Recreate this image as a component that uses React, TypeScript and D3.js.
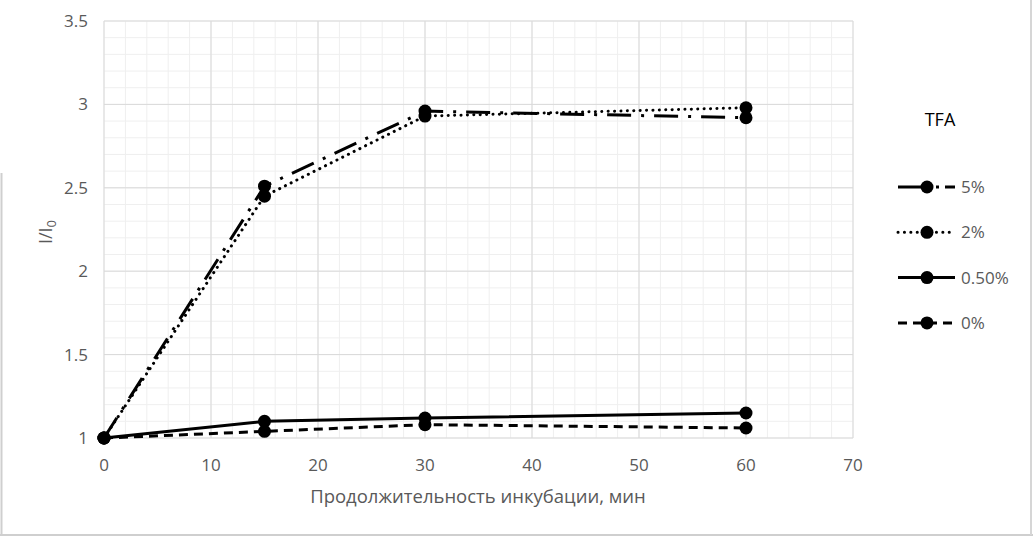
import React from "react";
import * as d3 from "d3";

// incubation time, min
const times = [0, 15, 30, 60];

// I/I0 per TFA concentration
const tfa5 = [1, 2.51, 2.96, 2.92];
const tfa2 = [1, 2.45, 2.93, 2.98];
const tfa05 = [1, 1.1, 1.12, 1.15];
const tfa0 = [1, 1.04, 1.08, 1.06];

const seriesNames = ["5%", "2%", "0.50%", "0%"];
const seriesValues = [tfa5, tfa2, tfa05, tfa0];
const dashes = ["24,10,3,10", "0.1,6.3", "none", "9,6"];
const legendDashes = ["24,14,3,6", "0.1,6.3", "none", "9,6"];

const xTicks = [0, 10, 20, 30, 40, 50, 60, 70];
const yTicks = [1, 1.5, 2, 2.5, 3, 3.5];

const W = 1033;
const H = 537;
const font = "'Open Sans', 'DejaVu Sans', sans-serif";
const grey = "#595959";

export default function App() {
  const x = d3.scaleLinear().domain([0, 70]).range([104, 853]);
  const y = d3.scaleLinear().domain([1, 3.5]).range([438, 21]);

  const line = d3
    .line<number>()
    .x((_, i) => x(times[i]))
    .y((d) => y(d));

  const minorX = d3.range(0, 70.01, 2);
  const minorY = d3.range(1, 3.501, 0.1);

  return (
    <svg
      width={W}
      height={H}
      style={{ position: "absolute", left: 0, top: 0, background: "#fff" }}
      fontFamily={font}
    >
      {/* chart frame, partly visible */}
      <line x1={1.5} x2={1.5} y1={173} y2={535} stroke="#cfcfcf" strokeWidth={2} />
      <line x1={0} x2={W} y1={535} y2={535} stroke="#cfcfcf" strokeWidth={2} />
      <line x1={1031} x2={1031} y1={0} y2={535} stroke="#d6d6d6" strokeWidth={2} />

      {/* minor grid */}
      {minorX.map((v) => (
        <line key={"mx" + v} x1={x(v)} x2={x(v)} y1={y(3.5)} y2={y(1)} stroke="#efefef" />
      ))}
      {minorY.map((v) => (
        <line key={"my" + v} x1={x(0)} x2={x(70)} y1={y(v)} y2={y(v)} stroke="#efefef" />
      ))}
      {/* major grid */}
      {xTicks.map((v) => (
        <line key={"gx" + v} x1={x(v)} x2={x(v)} y1={y(3.5)} y2={y(1)} stroke="#d9d9d9" />
      ))}
      {yTicks.map((v) => (
        <line key={"gy" + v} x1={x(0)} x2={x(70)} y1={y(v)} y2={y(v)} stroke="#d9d9d9" />
      ))}

      {/* tick labels */}
      {yTicks.map((v) => (
        <text key={"ty" + v} x={88} y={y(v)} dy="0.35em" textAnchor="end" fontSize={17} fill={grey}>
          {String(v)}
        </text>
      ))}
      {xTicks.map((v) => (
        <text key={"tx" + v} x={x(v)} y={465} dy="0.35em" textAnchor="middle" fontSize={17} fill={grey}>
          {String(v)}
        </text>
      ))}

      {/* axis titles */}
      <text x={478} y={497} dy="0.35em" textAnchor="middle" fontSize={18.5} fill={grey}>
        Продолжительность инкубации, мин
      </text>
      <text
        transform="translate(46,232) rotate(-90)"
        textAnchor="middle"
        dy="0.35em"
        fontSize={18}
        fill={grey}
      >
        I/I
        <tspan fontSize={13} dy="0.3em">
          0
        </tspan>
      </text>

      {/* series */}
      {seriesValues.map((vals, k) => (
        <g key={"s" + k}>
          <path
            d={line(vals) || ""}
            fill="none"
            stroke="#000"
            strokeWidth={3}
            strokeDasharray={dashes[k]}
            strokeLinecap={k === 1 ? "round" : "butt"}
          />
          {vals.map((v, i) => (
            <circle key={i} cx={x(times[i])} cy={y(v)} r={6.5} fill="#000" />
          ))}
        </g>
      ))}

      {/* legend */}
      <text x={940} y={120} dy="0.35em" textAnchor="middle" fontSize={18} fill="#000">
        TFA
      </text>
      {seriesNames.map((name, k) => {
        const ly = 187 + k * 45.3;
        return (
          <g key={"l" + k}>
            <line
              x1={898}
              x2={955}
              y1={ly}
              y2={ly}
              stroke="#000"
              strokeWidth={3}
              strokeDasharray={legendDashes[k]}
              strokeLinecap={k === 1 ? "round" : "butt"}
            />
            <circle cx={927} cy={ly} r={6.5} fill="#000" />
            <text x={961} y={ly} dy="0.35em" fontSize={17} fill={grey}>
              {name}
            </text>
          </g>
        );
      })}
    </svg>
  );
}
